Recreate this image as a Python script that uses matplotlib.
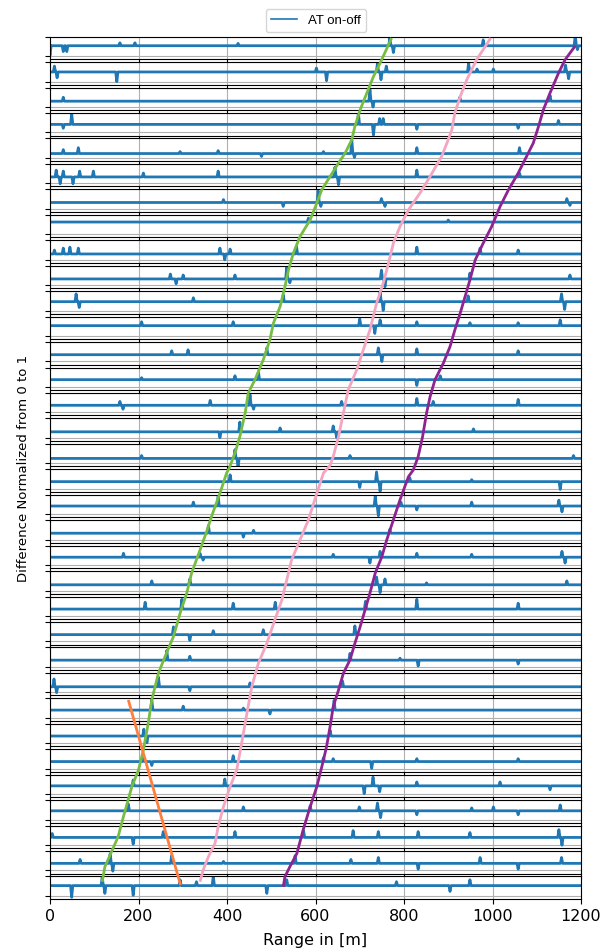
import matplotlib
matplotlib.use('Agg')
import matplotlib.pyplot as plt
from matplotlib.lines import Line2D

# ---------------- data ----------------
x_max = 1200
x_ticks = [0, 200, 400, 600, 800, 1000, 1200]
legend_label = 'AT on-off'
x_label = 'Range in [m]'
y_label = 'Difference Normalized from 0 to 1'

# baseline level of each trace (top strip first)
baselines = [0.535, 0.495, 0.30, 0.415, 0.225, 0.33, 0.325, 0.63, 0.295, 0.32,
             0.46, 0.535, 0.35, 0.375, 0.365, 0.31, 0.25, 0.365, 0.42, 0.33,
             0.405, 0.295, 0.355, 0.35, 0.345, 0.285, 0.395, 0.37, 0.365, 0.425,
             0.45, 0.39, 0.365, 0.53]

# notable spikes of each trace: (range m, deviation)
spikes = [
    [(0, -0.5), (30, -0.3), (38, -0.3), (158, 0.15), (192, 0.15), (425, 0.12), (768, 0.4), (776, -0.35), (979, 0.3), (1187, 0.55), (1192, -0.2)],
    [(10, 0.3), (16, -0.3), (151, -0.5), (602, 0.2), (625, -0.45), (740, 0.45), (748, -0.4), (760, 0.3), (946, 0.45), (965, 0.15), (1002, 0.15), (1165, 0.35), (1172, -0.35)],
    [(30, 0.2), (723, 0.6), (730, -0.3), (926, 0.2), (1130, 0.3)],
    [(30, -0.2), (49, 0.55), (697, 0.6), (731, -0.55), (745, 0.3), (753, 0.3), (829, -0.25), (1058, -0.2), (1149, 0.2)],
    [(30, 0.2), (64, 0.3), (294, 0.1), (380, 0.15), (478, -0.15), (618, 0.1), (682, 0.7), (688, -0.2), (829, 0.3), (1061, 0.3)],
    [(14, 0.35), (23, -0.35), (30, 0.3), (52, -0.35), (67, 0.3), (98, 0.3), (211, 0.2), (380, 0.3), (644, 0.5), (652, -0.4), (829, 0.35), (1061, 0.2)],
    [(392, 0.15), (527, -0.2), (606, 0.6), (612, -0.2), (749, 0.2), (757, -0.2), (1168, 0.2), (1175, -0.15)],
    [(584, 0.2), (900, 0.1)],
    [(10, 0.2), (30, 0.3), (45, 0.35), (64, 0.3), (384, 0.3), (395, -0.3), (407, 0.25), (557, 0.4), (829, 0.35), (972, 0.3), (1058, 0.2)],
    [(272, 0.25), (285, -0.25), (301, 0.2), (418, 0.2), (535, 0.6), (542, -0.2), (749, 0.45), (757, -0.4), (949, 0.3), (1175, 0.2)],
    [(59, 0.4), (66, -0.3), (324, 0.2), (527, 0.35), (746, 0.5), (753, -0.45), (945, 0.3), (1156, 0.4), (1163, -0.4)],
    [(207, 0.2), (414, 0.2), (700, 0.35), (734, -0.4), (746, 0.3), (829, 0.2), (949, 0.15), (1058, 0.15), (1153, 0.3)],
    [(275, 0.2), (312, 0.25), (490, 0.35), (742, 0.35), (750, -0.35), (829, 0.3), (1058, 0.2)],
    [(207, 0.1), (418, 0.2), (471, 0.4), (829, -0.3), (882, 0.2)],
    [(158, 0.2), (165, -0.2), (362, 0.25), (452, 0.55), (460, -0.2), (659, 0.2), (829, 0.35), (866, 0.2), (1058, 0.3)],
    [(384, -0.3), (429, 0.5), (520, 0.2), (640, 0.3), (648, -0.3), (957, 0.15)],
    [(207, 0.15), (418, 0.45), (425, -0.45), (678, 0.15), (1183, 0.15)],
    [(407, 0.35), (700, -0.3), (738, 0.5), (746, -0.5), (813, 0.2), (953, 0.1), (1153, -0.4)],
    [(324, 0.2), (380, 0.5), (735, 0.5), (742, -0.5), (793, 0.2), (829, -0.2), (953, 0.2), (1150, 0.3), (1157, -0.3)],
    [(358, 0.4), (437, -0.2), (460, 0.15), (768, 0.2)],
    [(166, 0.2), (339, 0.2), (346, -0.15), (640, 0.15), (723, -0.3), (746, 0.3), (829, 0.2), (953, 0.15), (1157, 0.3), (1164, -0.3)],
    [(230, 0.2), (316, 0.3), (738, 0.4), (746, -0.4), (757, 0.3), (851, 0.1), (1168, 0.2)],
    [(215, 0.35), (298, 0.5), (414, 0.3), (509, 0.35), (713, 0.4), (829, 0.5), (1058, 0.3)],
    [(279, 0.4), (316, -0.3), (369, 0.2), (482, 0.25), (689, 0.45)],
    [(264, 0.5), (316, 0.2), (678, 0.35), (791, 0.1), (832, -0.3), (1058, -0.2)],
    [(9, 0.4), (15, -0.3), (245, 0.5), (316, -0.2), (452, 0.2), (661, 0.3)],
    [(230, 0.55), (301, 0.2), (437, 0.1), (497, -0.2), (642, 0.5)],
    [(212, 0.35), (219, -0.35), (633, 0.3)],
    [(211, 0.3), (230, -0.2), (414, 0.3), (618, 0.2), (640, 0.15), (727, -0.35), (829, 0.15), (1058, 0.15)],
    [(188, 0.3), (395, 0.35), (710, -0.4), (730, 0.45), (745, -0.3), (829, 0.2), (1017, 0.2), (1130, -0.2)],
    [(177, 0.35), (437, 0.2), (588, 0.25), (699, 0.2), (740, 0.4), (747, -0.35), (829, -0.2), (953, 0.15), (1002, 0.2), (1058, -0.2), (1153, 0.3)],
    [(5, 0.2), (188, -0.35), (256, 0.3), (418, 0.3), (573, 0.35), (685, 0.35), (742, 0.3), (832, 0.3), (949, 0.25), (1150, 0.4), (1157, -0.4)],
    [(68, 0.2), (136, 0.5), (142, -0.4), (275, 0.4), (392, 0.1), (554, 0.4), (680, 0.2), (742, 0.3), (832, -0.3), (972, 0.3), (1058, -0.3), (1156, 0.3)],
    [(49, -0.6), (118, 0.45), (124, -0.4), (188, -0.5), (294, 0.3), (331, 0.2), (369, 0.5), (490, -0.4), (535, 0.3), (783, 0.2), (904, -0.3), (949, 0.3)],
]

# tracked features across strips (x in m, position in strip units from bottom)
green_x = [772, 746, 731, 716, 701, 689, 682, 667, 652, 633, 614, 603, 588, 565, 550, 539, 531, 520, 505, 497,
           482, 463, 448, 441, 429, 418, 405, 399, 384, 365, 354, 339, 320, 309, 294, 279, 260, 245, 230, 222,
           211, 200, 185, 166, 154, 136, 124, 118]
green_s = [33.95, 32.96, 32.43, 31.78, 31.12, 30.46, 29.94, 29.41, 29.02, 28.49, 27.96, 27.44, 26.78, 26.12, 25.47,
           24.81, 24.15, 23.36, 22.71, 22.05, 21.26, 20.47, 19.95, 19.16, 18.23, 17.58, 16.99, 16.79, 16.0, 15.08,
           14.49, 13.76, 12.85, 12.06, 11.27, 10.35, 9.56, 8.90, 7.85, 6.93, 5.88, 5.09, 4.43, 3.25, 2.46, 1.74,
           1.27, 0.68]
pink_x = [996, 964, 942, 927, 915, 908, 900, 885, 859, 836, 810, 791, 776, 765, 753, 738, 723, 708, 693, 674,
          663, 652, 640, 633, 618, 603, 584, 565, 546, 535, 524, 508, 490, 471, 456, 445, 433, 422, 407, 392,
          380, 373, 358, 346, 339]
pink_s = [33.95, 33.09, 32.31, 31.64, 30.99, 30.33, 29.94, 29.28, 28.49, 27.83, 27.17, 26.52, 25.86, 25.07, 24.28,
          23.49, 22.44, 21.65, 20.86, 20.08, 19.16, 18.23, 17.44, 17.1, 16.79, 16.0, 14.95, 14.16, 13.37, 12.58,
          11.79, 11.0, 10.08, 9.30, 8.37, 7.32, 6.14, 5.09, 4.43, 3.64, 2.85, 2.20, 1.67, 1.14, 0.68]
purple_x = [1187, 1164, 1149, 1130, 1115, 1104, 1092, 1077, 1058, 1036, 1017, 998, 979, 961, 949, 938, 927, 915,
            904, 889, 870, 859, 851, 842, 832, 821, 810, 791, 776, 761, 750, 735, 723, 712, 701, 689, 678, 663,
            652, 640, 633, 625, 618, 603, 588, 572, 558, 542, 531, 527]
purple_s = [33.64, 33.09, 32.56, 31.78, 31.12, 30.46, 29.80, 29.28, 28.62, 27.96, 27.30, 26.51, 25.86, 25.20, 24.41,
            23.75, 23.10, 22.44, 21.78, 21.13, 20.47, 19.81, 19.16, 18.23, 17.44, 16.92, 16.65, 15.74, 14.95, 14.16,
            13.50, 12.85, 12.06, 11.40, 10.74, 10.08, 9.43, 8.90, 8.24, 7.58, 6.80, 6.01, 5.48, 4.43, 3.64, 2.72,
            1.80, 1.27, 0.88, 0.48]
orange_x = [177, 295]
orange_s = [7.85, 0.55]

# ---------------- figure ----------------
n = len(baselines)
W, H = 613, 952
fig = plt.figure(figsize=(W / 100, H / 100), dpi=100)
left, right = 50 / W, 581 / W
top, bottom = 1 - 36.7 / H, 1 - 899 / H
gs = fig.add_gridspec(n, 1, left=left, right=right, top=top, bottom=bottom, hspace=0.13)

blue = '#1f77b4'
spike_w = 2.5
for i in range(n):
    ax = fig.add_subplot(gs[i, 0])
    b = baselines[i]
    xs, ys = [0.0], [b]
    for sx, a in sorted(spikes[i]):
        xs += [sx - spike_w, sx, sx + spike_w]
        ys += [b, b + a, b]
    xs.append(x_max)
    ys.append(b)
    ax.plot(xs, ys, color=blue, lw=2.0, solid_joinstyle='round')
    ax.set_xlim(0, x_max)
    ax.set_ylim(-0.16, 1.0)
    ax.set_yticks([0, 1])
    ax.set_yticklabels([])
    ax.set_xticks(x_ticks)
    ax.grid(True, color='#b0b0b0', lw=0.8)
    ax.tick_params(labelsize=11.5)
    if i < n - 1:
        ax.set_xticklabels([])

# overlay for the tracked features
ov = fig.add_axes([left, bottom, right - left, top - bottom])
ov.set_xlim(0, x_max)
ov.set_ylim(0, n)
ov.axis('off')
ov.patch.set_alpha(0)
ov.plot(green_x, green_s, color='#78bd43', lw=2.0, solid_capstyle='butt')
ov.plot(pink_x, pink_s, color='#f4a5c0', lw=2.0, solid_capstyle='butt')
ov.plot(purple_x, purple_s, color='#8e2391', lw=2.0, solid_capstyle='butt')
ov.plot(orange_x, orange_s, color='#ff7f3f', lw=2.0, solid_capstyle='butt')

fig.text(24 / W, 1 - 468 / H, y_label, rotation=90, ha='center', va='center', fontsize=9.5)
fig.text(0.5147, 1 - 941 / H, x_label, ha='center', va='center', fontsize=11.5)

fig.legend(handles=[Line2D([], [], color=blue, lw=1.2)], labels=[legend_label],
           loc='upper center', bbox_to_anchor=(316 / W, 1 - 2.5 / H),
           prop={'family': 'Liberation Sans', 'size': 9.5}, framealpha=0.8)

fig.savefig('out.png', dpi=100)
